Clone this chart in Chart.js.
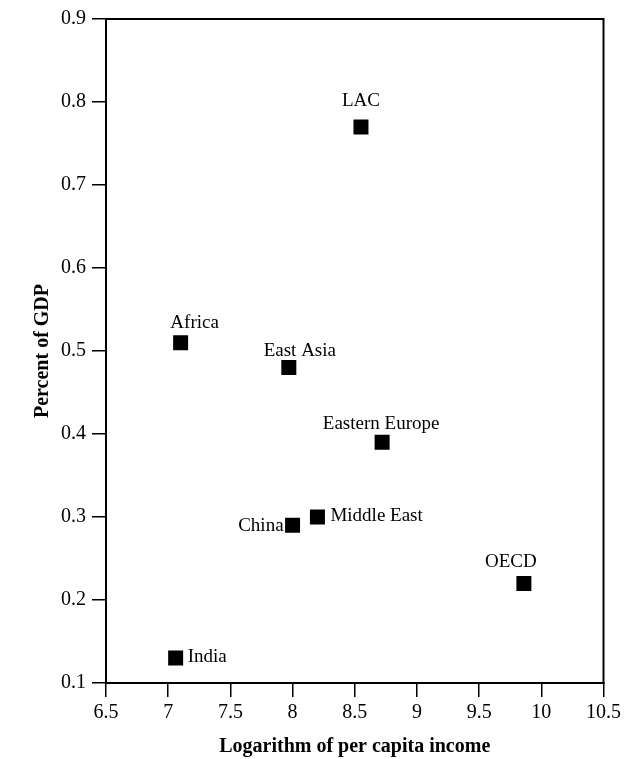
<!DOCTYPE html>
<html>
  <head>
    <title>Scatter - Percent of GDP</title>
    <script src="https://cdn.jsdelivr.net/npm/chart.js@4.4.1/dist/chart.umd.min.js"></script>
    <style>
      html, body { margin: 0; padding: 0; background: #fff; }
      canvas { display: block; }
    </style>
  </head>
  <body>
    <canvas id="mycanvas" width="625" height="759"></canvas>
    <script>
      // values
      var regions   = ['LAC', 'Africa', 'East Asia', 'Eastern Europe', 'Middle East', 'China', 'OECD', 'India'];
      var logIncome = [8.55, 7.10, 7.97, 8.72, 8.20, 8.00, 9.86, 7.06];
      var gdpShare  = [0.77, 0.51, 0.48, 0.39, 0.30, 0.29, 0.22, 0.13];

      // where each name sits next to its square: [dx, dy, align]
      var labelSpots = [
        [0, -26, 'center'],
        [14, -20, 'center'],
        [11, -17, 'center'],
        [-1, -18, 'center'],
        [13, -1, 'left'],
        [-9, 1, 'right'],
        [-13, -21, 'center'],
        [12, -1, 'left']
      ];

      var serif = "'Liberation Serif', 'DejaVu Serif', serif";

      var points = [];
      for (var i = 0; i < regions.length; i++) {
        points.push({x: logIncome[i], y: gdpShare[i]});
      }

      var frameAndNames = {
        id: 'frameAndNames',
        afterDatasetsDraw: function(chart) {
          var ctx = chart.ctx;
          var a = chart.chartArea;
          var meta = chart.getDatasetMeta(0);
          ctx.save();
          ctx.strokeStyle = '#000';
          ctx.lineWidth = 2;
          ctx.strokeRect(a.left, a.top, a.right - a.left, a.bottom - a.top);
          ctx.fillStyle = '#000';
          ctx.font = '19px ' + serif;
          ctx.textBaseline = 'middle';
          meta.data.forEach(function(pt, i) {
            var s = labelSpots[i];
            ctx.textAlign = s[2];
            ctx.fillText(regions[i], pt.x + s[0], pt.y + s[1]);
          });
          ctx.restore();
        }
      };

      var ctx = document.getElementById('mycanvas');

      new Chart(ctx, {
        type: 'scatter',
        data: {
          datasets: [{
            label: 'Percent of GDP',
            data: points,
            pointStyle: 'rect',
            pointRadius: 10.6,
            pointHoverRadius: 10.6,
            backgroundColor: '#000',
            borderColor: '#000',
            borderWidth: 0
          }]
        },
        options: {
          responsive: false,
          animation: false,
          maintainAspectRatio: false,
          layout: { padding: { top: 19, right: 21, left: 0, bottom: 0 } },
          plugins: {
            legend: { display: false },
            tooltip: { enabled: false }
          },
          scales: {
            x: {
              type: 'linear',
              min: 6.5,
              max: 10.5,
              afterFit: function(scale) { scale.height = 76; },
              ticks: {
                stepSize: 0.5,
                autoSkip: false,
                color: '#000',
                padding: 4,
                font: { family: serif, size: 20 },
                maxRotation: 0,
                callback: function(v) { return String(v); }
              },
              grid: {
                drawOnChartArea: false,
                drawTicks: true,
                tickLength: 14,
                color: '#000',
                lineWidth: 1.5
              },
              border: { display: true, color: '#000', width: 2 },
              title: {
                display: true,
                text: 'Logarithm of per capita income',
                color: '#000',
                font: { family: serif, size: 20, weight: 'bold', lineHeight: 1.2 },
                padding: { top: 0, bottom: 0 }
              }
            },
            y: {
              type: 'linear',
              min: 0.1,
              max: 0.9,
              afterFit: function(scale) { scale.width = 106; },
              ticks: {
                stepSize: 0.1,
                autoSkip: false,
                color: '#000',
                padding: 6,
                font: { family: serif, size: 20 },
                callback: function(v) { return v.toFixed(1); }
              },
              grid: {
                drawOnChartArea: false,
                drawTicks: true,
                tickLength: 14,
                color: '#000',
                lineWidth: 1.5
              },
              border: { display: true, color: '#000', width: 2 },
              title: {
                display: true,
                text: 'Percent of GDP',
                color: '#000',
                font: { family: serif, size: 20, weight: 'bold', lineHeight: 1.2 },
                padding: { top: 31, bottom: 0 }
              }
            }
          }
        },
        plugins: [frameAndNames]
      });
    </script>
  </body>
</html>
